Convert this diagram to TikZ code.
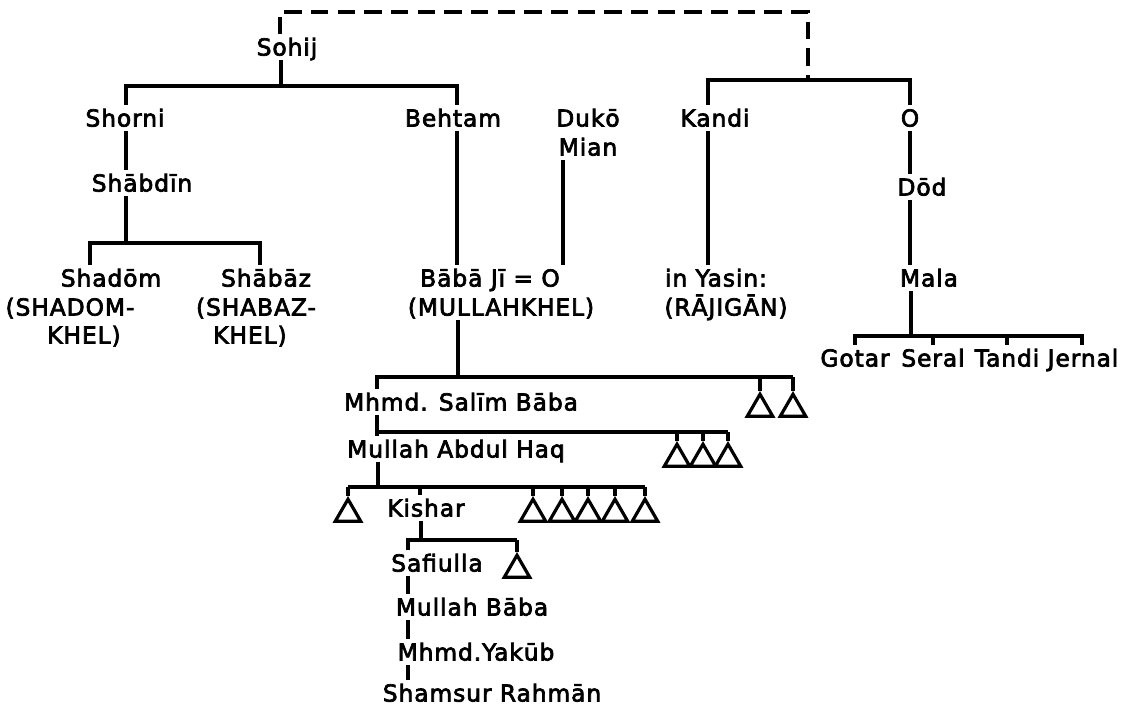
\documentclass[tikz,border=0pt]{standalone}
\usepackage{fontspec}
\setmainfont{DejaVu Sans}[LetterSpace=4,FakeBold=3]
\usetikzlibrary{shapes.geometric}
\begin{document}
\begin{tikzpicture}[x=0.75pt,y=-0.75pt,line width=2.4pt,
  person/.style={inner xsep=0pt,inner ysep=2pt,text height=12.8pt,text depth=0pt,
    font=\fontsize{17.5}{20}\selectfont},
  issue/.style={draw,regular polygon,regular polygon sides=3,minimum size=22pt,
    inner sep=0pt,anchor=north},
  link/.style={dash pattern=on 13pt off 7pt}]
\useasboundingbox (0,0) rectangle (1131,708);
\node[person] (sohij) at (287,47) {Sohij};
\node[person] (shorni) at (125,118) {Shorni};
\node[person] (behtam) at (453,118) {Behtam};
\node[person] (duko) at (588,118) {Dukō};
\node[person] (mian) at (588,147) {Mian};
\node[person] (kandi) at (715,118) {Kandi};
\node[person] (o1) at (910,118) {O};
\node[person] (shabdin) at (142,183) {Shābdīn};
\node[person] (dod) at (922,187) {Dōd};
\node[person] (shadom) at (111,278) {Shadōm};
\node[person] (shadomkhel) at (70,307) {(SHADOM-};
\node[person] (shadomkhelb) at (84,335) {KHEL)};
\node[person] (shabaz) at (266,278) {Shābāz};
\node[person] (shabazkhel) at (256,307) {(SHABAZ-};
\node[person] (shabazkhelb) at (250,335) {KHEL)};
\node[person] (babaji) at (490,278) {Bābā Jī = O};
\node[person] (mullahkhel) at (501,307) {(MULLAHKHEL)};
\node[person] (yasin) at (716,278) {in Yasin:};
\node[person] (rajigan) at (726,307) {(RĀJIGĀN)};
\node[person] (mala) at (929,278) {Mala};
\node[person] (gotar) at (855,358) {Gotar};
\node[person] (seral) at (933,358) {Seral};
\node[person] (tandi) at (1007,358) {Tandi};
\node[person] (jernel) at (1083,358) {Jernal};
\node[person] (salim) at (461,402) {Mhmd. Salīm Bāba};
\node[person] (abdulhaq) at (456,449) {Mullah Abdul Haq};
\node[person] (kishar) at (426,508) {Kishar};
\node[person] (safiulla) at (437,563) {Safiulla};
\node[person] (mullahbaba) at (472,607) {Mullah Bāba};
\node[person] (yakub) at (476,652) {Mhmd.Yakūb};
\node[person] (shamsur) at (492,693) {Shamsur Rahmān};
\node[issue] (s1) at (760,391) {};
\node[issue] (s2) at (793,391) {};
\node[issue] (a1) at (677,441) {};
\node[issue] (a2) at (703,441) {};
\node[issue] (a3) at (728,441) {};
\node[issue] (k0) at (348,496) {};
\node[issue] (k1) at (533,496) {};
\node[issue] (k2) at (562,496) {};
\node[issue] (k3) at (588,496) {};
\node[issue] (k4) at (615,496) {};
\node[issue] (k5) at (645,496) {};
\node[issue] (f1) at (517,552) {};
\coordinate (top1) at (280,12);
\coordinate (top2) at (808,12);
\coordinate (odash) at (808,80);
\coordinate (sohijbar) at (281,86);
\coordinate (shornitop) at (126,86);
\coordinate (behtamtop) at (457,86);
\coordinate (kanditop) at (708,80);
\coordinate (otop) at (910,80);
\coordinate (mianline) at (563,150);
\coordinate (shabdinbar) at (126,243);
\coordinate (shadomtop) at (90,243);
\coordinate (shabaztop) at (260,243);
\coordinate (malabar) at (911,336);
\coordinate (gotartop) at (855,336);
\coordinate (jerneltop) at (1082,336);
\coordinate (bababar) at (458,377);
\coordinate (salimtop) at (377,377);
\coordinate (salimend) at (793,377);
\coordinate (abdultop) at (377,432);
\coordinate (abdulend) at (728,432);
\coordinate (kisharbar) at (378,487);
\coordinate (kishartop) at (420,487);
\coordinate (kb1) at (348,487);
\coordinate (kb2) at (645,487);
\coordinate (safbar) at (421,540);
\coordinate (saftop) at (408,540);
\coordinate (safend) at (517,540);
\draw[link] (sohij.north -| top1) -- (top1) -- (top2) -- (odash);
\draw (sohij.south -| sohijbar) -- (sohijbar);
\draw (shorni.north -| shornitop) -- (shornitop) -- (behtamtop) -- (behtam.north -| behtamtop);
\draw (kandi.north -| kanditop) -- (kanditop) -- (otop) -- (o1.north -| otop);
\draw (shorni.south -| shornitop) -- (shabdin.north -| shornitop);
\draw (shabdin.south -| shabdinbar) -- (shabdinbar);
\draw (shadom.north -| shadomtop) -- (shadomtop) -- (shabaztop) -- (shabaz.north -| shabaztop);
\draw (behtam.south -| behtamtop) -- (babaji.north -| behtamtop);
\draw (mian.south -| mianline) -- (babaji.north -| mianline);
\draw (kandi.south -| kanditop) -- (yasin.north -| kanditop);
\draw (o1.south -| otop) -- (dod.north -| otop);
\draw (dod.south -| otop) -- (mala.north -| otop);
\draw (mala.south -| malabar) -- (malabar);
\draw (gotar.north -| gotartop) -- (gotartop) -- (jerneltop) -- (jernel.north -| jerneltop);
\draw (seral.north) -- (seral.north |- malabar);
\draw (tandi.north) -- (tandi.north |- malabar);
\draw (mullahkhel.south -| bababar) -- (bababar);
\draw (salim.north -| salimtop) -- (salimtop) -- (salimend);
\foreach \t in {s1,s2} \draw (\t.north) -- (\t.north |- salimtop);
\draw (salim.south -| abdultop) -- (abdulhaq.north -| abdultop);
\draw (abdultop) -- (abdulend);
\foreach \t in {a1,a2,a3} \draw (\t.north) -- (\t.north |- abdultop);
\draw (abdulhaq.south -| kisharbar) -- (kisharbar);
\draw (kb1) -- (kb2);
\draw (kishar.north -| kishartop) -- (kishartop);
\foreach \t in {k0,k1,k2,k3,k4,k5} \draw (\t.north) -- (\t.north |- kb1);
\draw (kishar.south -| safbar) -- (safbar);
\draw (safiulla.north -| saftop) -- (saftop) -- (safend);
\draw (f1.north) -- (f1.north |- safend);
\draw (safiulla.south -| saftop) -- (mullahbaba.north -| saftop);
\draw (mullahbaba.south -| saftop) -- (yakub.north -| saftop);
\draw (yakub.south -| saftop) -- (shamsur.north -| saftop);
\end{tikzpicture}
\end{document}
